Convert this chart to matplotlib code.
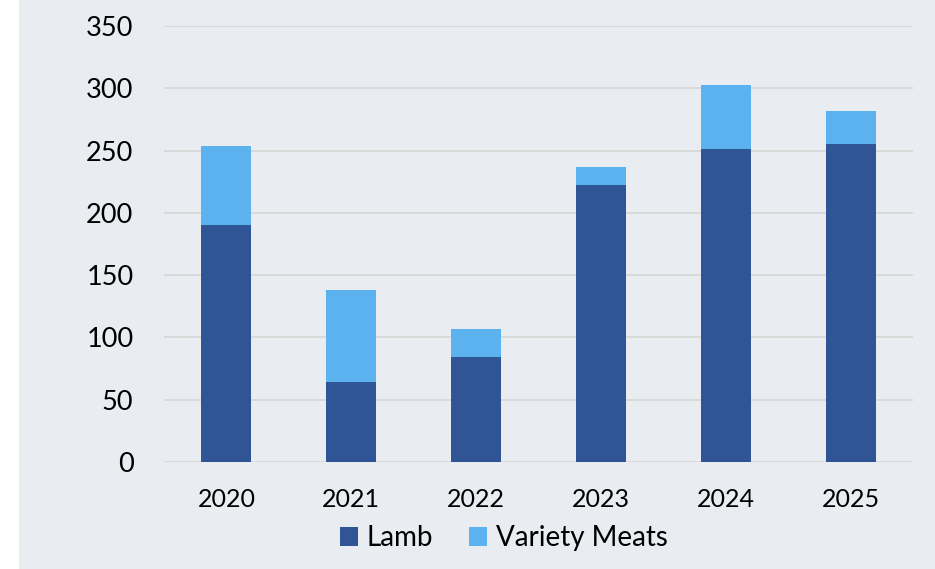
import matplotlib
matplotlib.use("Agg")
import matplotlib.pyplot as plt
from matplotlib.patches import Rectangle, Patch

years = ["2020", "2021", "2022", "2023", "2024", "2025"]
lamb = [190, 64, 84, 222, 251, 255]
variety = [64, 74, 23, 15, 52, 27]
yticks = [0, 50, 100, 150, 200, 250, 300, 350]

c_lamb = "#2F5597"
c_var = "#5BB2EE"
bg = "#E9ECF1"

plt.rcParams['font.family'] = ['Lato', 'DejaVu Sans']

fig = plt.figure(figsize=(9.35, 5.69), dpi=100)
fig.patch.set_facecolor("white")
fig.patches.append(Rectangle((19/935, 0), 1 - 19/935, 1, transform=fig.transFigure,
                             facecolor=bg, edgecolor="none", zorder=-10))

ax = fig.add_axes([164/935, 1 - 462/569, (913 - 164)/935, (462 - 26)/569])
ax.set_facecolor("none")
x = list(range(len(years)))
ax.bar(x, lamb, width=0.4, color=c_lamb, zorder=3)
ax.bar(x, variety, width=0.4, bottom=lamb, color=c_var, zorder=3)

ax.set_xlim(-0.5, len(years) - 0.5)
ax.set_ylim(0, 350)
ax.set_yticks(yticks)
ax.set_yticklabels([str(v) for v in yticks])
ax.set_xticks(x)
ax.set_xticklabels(years)
ax.grid(axis="y", color="#D9D9D9", linewidth=1.4, zorder=0)
ax.set_axisbelow(True)
for s in ax.spines.values():
    s.set_visible(False)
ax.tick_params(axis="y", length=0, pad=22, labelsize=19.5)
ax.tick_params(axis="x", length=0, pad=19, labelsize=18)

handles = [Patch(facecolor=c_lamb, label="Lamb"), Patch(facecolor=c_var, label="Variety Meats")]
fig.legend(handles=handles, loc="center", bbox_to_anchor=(504/935, 1 - 538/569),
           ncol=2, frameon=False, fontsize=20, handlelength=0.65, handleheight=0.65,
           handletextpad=0.3, columnspacing=1.3)

fig.savefig("out.png", dpi=100, facecolor=fig.get_facecolor())
